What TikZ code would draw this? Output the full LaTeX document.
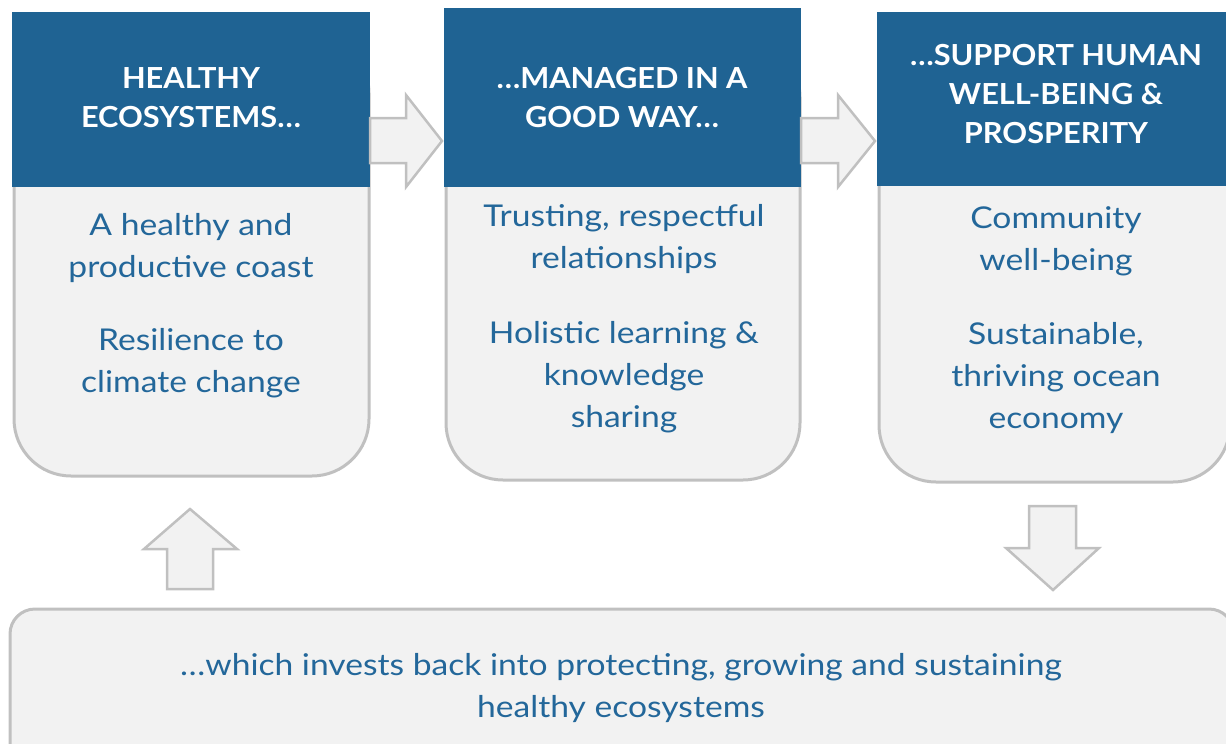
\documentclass[tikz,border=0pt]{standalone}
\usepackage{fontspec}
\setmainfont{Lato}
\newfontfamily\bodyfont{Lato}[FakeStretch=1.12]
\newfontfamily\headfont{Lato}[FakeStretch=1.06]
\definecolor{hblue}{HTML}{1F6393}
\definecolor{tblue}{HTML}{23679A}
\definecolor{bgray}{HTML}{F2F2F2}
\definecolor{lgray}{HTML}{C0C0C0}
\begin{document}
\begin{tikzpicture}[x=1pt,y=-1pt,
  bodybox/.style={draw=lgray, line width=3pt, fill=bgray, rounded corners=57pt, inner sep=0pt, outer sep=0pt},
  headbox/.style={fill=hblue, inner sep=0pt, outer sep=0pt},
  headtxt/.style={text=white, font=\headfont\bfseries\fontsize{29}{39}\selectfont, align=center, anchor=base, inner sep=0pt},
  bodytxt/.style={text=tblue, font=\bodyfont\fontsize{30}{42}\selectfont, align=center, anchor=base, inner sep=0pt},
  blockarrow/.style={draw=lgray, line width=2.5pt, fill=bgray, line join=miter}]
\useasboundingbox (0,0) rectangle (1226,744);
% column boxes
\node[bodybox, minimum width=355pt, minimum height=440pt, anchor=south west] (b1) at (14,476) {};
\node[headbox, minimum width=358pt, minimum height=175pt, anchor=north west] (h1) at (12,12) {};
\node[bodybox, minimum width=354pt, minimum height=440pt, anchor=south west] (b2) at (446,480) {};
\node[headbox, minimum width=357pt, minimum height=179pt, anchor=north west] (h2) at (444,8) {};
\node[bodybox, minimum width=351pt, minimum height=440pt, anchor=south west] (b3) at (879,482) {};
\node[headbox, minimum width=353pt, minimum height=174pt, anchor=north west] (h3) at (877,12) {};
% bottom box
\node[bodybox, rounded corners=25pt, minimum width=1224pt, minimum height=200pt, anchor=north west] (b4) at (10,609) {};
% header texts (anchor = baseline of last line)
\node[headtxt] (h1t) at (191,127) {HEALTHY\\ECOSYSTEMS…};
\node[headtxt] (h2t) at (622,127) {…MANAGED IN A\\GOOD WAY…};
\node[headtxt] (h3t) at (1056,143) {…SUPPORT HUMAN\\WELL-BEING \&\\PROSPERITY};
% body texts
\node[bodytxt] (t1a) at (191,277) {A healthy and\\productive coast};
\node[bodytxt] (t1b) at (191,392) {Resilience to\\climate change};
\node[bodytxt] (t2a) at (624,268) {Trusting, respectful\\relationships};
\node[bodytxt] (t2b) at (624,427) {Holistic learning \&\\knowledge\\sharing};
\node[bodytxt] (t3a) at (1056,270) {Community\\well-being};
\node[bodytxt] (t3b) at (1056,428) {Sustainable,\\thriving ocean\\economy};
\node[bodytxt] (t4) at (621,717) {…which invests back into protecting, growing and sustaining\\healthy ecosystems};
% block arrows
\draw[blockarrow] (370,118) -- (406,118) -- (406,95) -- (442,141) -- (406,187) -- (406,163) -- (370,163) -- cycle;
\draw[blockarrow] (801,118) -- (838,118) -- (838,95) -- (875,141) -- (838,187) -- (838,163) -- (801,163) -- cycle;
\draw[blockarrow] (167,589) -- (167,549) -- (144,549) -- (190,509) -- (237,549) -- (213,549) -- (213,589) -- cycle;
\draw[blockarrow] (1029,506) -- (1076,506) -- (1076,548) -- (1099,548) -- (1053,590) -- (1006,548) -- (1029,548) -- cycle;
\end{tikzpicture}
\end{document}
